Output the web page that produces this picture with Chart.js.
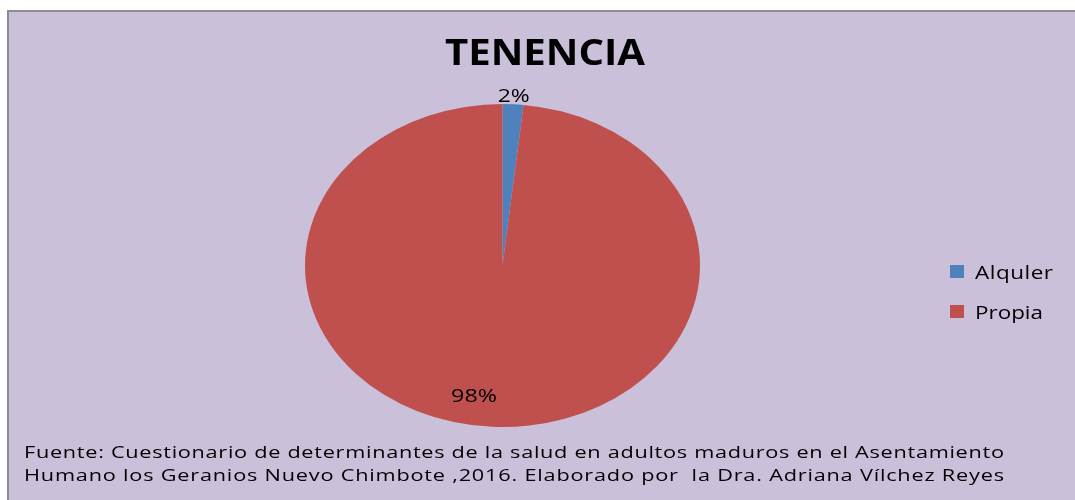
<!DOCTYPE html>
<html>
<head>
<meta charset="utf-8">
<script src="https://cdn.jsdelivr.net/npm/chart.js@4"></script>
<style>
  html, body { margin: 0; padding: 0; background: #fff; }
  #wrap { position: relative; width: 1075px; height: 500px; }
</style>
</head>
<body>
<div id="wrap"><canvas id="tenenciaChart" width="1075" height="500"></canvas></div>
<script>
// datos
const categorias = ["Alquler", "Propia"];
const porcentajes = [1.7, 98.3];
const etiquetas = ["2%", "98%"];
const colores = ["#4F81BD", "#C0504D"];

const titulo = "TENENCIA";
const fuente = [
    "Fuente: Cuestionario de determinantes de la salud en adultos maduros en el Asentamiento",
    "Humano los Geranios Nuevo Chimbote ,2016. Elaborado por  la Dra. Adriana Vílchez Reyes"
];

const FONT = "'Open Sans', 'DejaVu Sans', sans-serif";
const ESCALA_Y = 161.5 / 197.5; // el pie original es una elipse

// escribe texto ensanchado hasta un ancho dado (estira glifos y reparte el resto como espaciado)
function textoAjustado(c, txt, x, y, ancho, estirar, align) {
    c.save();
    c.letterSpacing = "0px";
    const w0 = c.measureText(txt).width;
    const n = Array.from(txt).length;
    let esp = n > 1 ? (ancho / estirar - w0) / (n - 1) : 0;
    let sx = estirar;
    if (esp < 0) { esp = 0; sx = ancho / w0; }
    c.letterSpacing = esp + "px";
    const x0 = align === "center" ? x - ancho / 2 : x;
    c.textAlign = "left";
    c.translate(x0, y);
    c.scale(sx, 1);
    c.fillText(txt, 0, 0);
    c.restore();
}

// fondo lila con borde gris
const fondo = {
    id: "fondo",
    beforeDraw(chart) {
        const c = chart.ctx;
        c.save();
        c.fillStyle = "#fff";
        c.fillRect(0, 0, chart.width, chart.height);
        c.fillStyle = "#CBC0DA";
        c.fillRect(8, 11, chart.width, chart.height);
        c.strokeStyle = "#8E8B96";
        c.lineWidth = 2;
        c.beginPath();
        c.moveTo(8, chart.height);
        c.lineTo(8, 11);
        c.lineTo(chart.width, 11);
        c.stroke();
        c.restore();
    }
};

// aplasta el pie verticalmente
const elipse = {
    id: "elipse",
    beforeDatasetsDraw(chart) {
        const a = chart.chartArea;
        const cy = (a.top + a.bottom) / 2;
        chart.ctx.save();
        chart.ctx.translate(0, cy);
        chart.ctx.scale(1, ESCALA_Y);
        chart.ctx.translate(0, -cy);
    },
    afterDatasetsDraw(chart) {
        chart.ctx.restore();
    }
};

// titulo, etiquetas, leyenda y fuente
const textos = {
    id: "textos",
    afterDraw(chart) {
        const c = chart.ctx;
        c.save();
        c.fillStyle = "#000";
        c.textBaseline = "alphabetic";

        c.font = "bold 36px " + FONT;
        textoAjustado(c, titulo, 545, 65, 200, 1.14, "center");

        // etiquetas de porcentaje
        const meta = chart.getDatasetMeta(0);
        const factores = [1.06, 0.80];
        const ajusteX = [0, -20];
        const anchos = [32, 46];
        c.font = "18px " + FONT;
        meta.data.forEach((arc, i) => {
            const mid = (arc.startAngle + arc.endAngle) / 2;
            const r = arc.outerRadius * factores[i];
            const x = arc.x + Math.cos(mid) * r + ajusteX[i];
            const y = arc.y + Math.sin(mid) * r * ESCALA_Y;
            textoAjustado(c, etiquetas[i], x, y + 7, anchos[i], 1.3, "center");
        });

        // leyenda
        const anchosLeyenda = [78, 68];
        c.font = "18px " + FONT;
        categorias.forEach((cat, i) => {
            const y = 265 + i * 40;
            c.fillStyle = colores[i];
            c.fillRect(950, y, 14, 13);
            c.fillStyle = "#000";
            textoAjustado(c, cat, 975, y + 14, anchosLeyenda[i], 1.25, "left");
        });

        // fuente
        c.font = "15.5px " + FONT;
        fuente.forEach((linea, i) => {
            textoAjustado(c, linea, 24, 458 + i * 23, 980, 1.4, "left");
        });
        c.restore();
    }
};

new Chart(document.getElementById("tenenciaChart").getContext("2d"), {
    type: "pie",
    data: {
        labels: categorias,
        datasets: [{
            data: porcentajes,
            backgroundColor: colores,
            borderWidth: 0
        }]
    },
    options: {
        responsive: false,
        animation: false,
        layout: { padding: { left: 305, right: 375, top: 68, bottom: 37 } },
        plugins: {
            legend: { display: false },
            tooltip: { enabled: false },
            title: { display: false }
        }
    },
    plugins: [fondo, elipse, textos]
});
</script>
</body>
</html>
